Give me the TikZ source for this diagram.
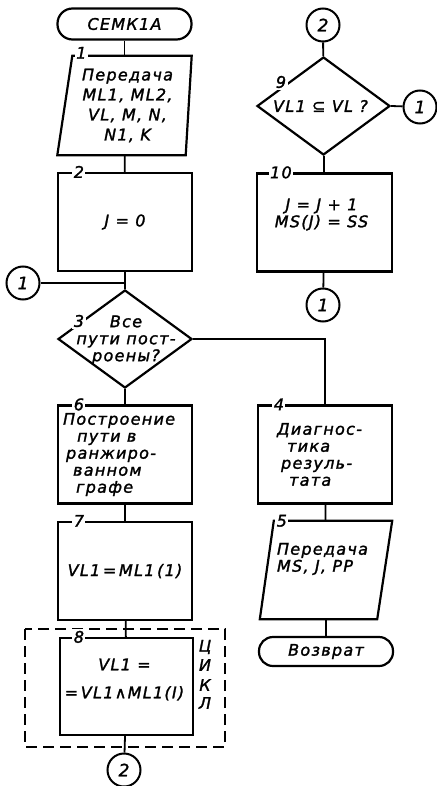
\documentclass[tikz,border=0pt]{standalone}
\usepackage{fontspec}
\setmainfont{DejaVu Sans}[LetterSpace=8,FakeBold=1.6]
\usetikzlibrary{shapes.geometric,calc}
\begin{document}
\begin{tikzpicture}[x=1pt,y=-1pt,
  every node/.style={font=\itshape\fontsize{16}{17}\selectfont},
  blk/.style={draw, line width=2.2pt, minimum width=134pt, minimum height=98pt, inner sep=0pt, align=center},
  shp/.style={draw, line width=2.2pt, line join=miter},
  txt/.style={align=center, inner sep=0pt},
  num/.style={fill=white, inner sep=1.5pt, font=\itshape\fontsize{16}{16}\selectfont},
  conn/.style={line width=1.8pt},
  con/.style={circle, draw, line width=2pt, minimum size=33pt, inner sep=0pt, font=\itshape\fontsize{17}{17}\selectfont},
  term/.style={draw, line width=2.2pt, rounded corners=15pt, minimum width=134pt, minimum height=31pt, inner sep=0pt},
  loopbox/.style={draw, line width=1.7pt, dash pattern=on 11pt off 6pt}]
\useasboundingbox (0,0) rectangle (436,786);

% ---- left column ----
\node[term] (start) at (124.5,24) {СЕМК1А};

\node[minimum width=134pt, minimum height=99pt, inner sep=0pt] (b1) at (124.5,105.5) {};
\draw[shp] ($(b1.north west)+(15,0)$) -- (b1.north east) -- ($(b1.south east)+(-6,0)$) -- (b1.south west) -- cycle;
\node[txt, font=\itshape\fontsize{16}{20}\selectfont] at ($(b1.center)+(3,0)$) {Передача\\ML1, ML2,\\VL, M, N,\\N1, K};
\node[num] at ($(b1.north west)+(24,-3)$) {1};

\node[blk] (b2) at (125,222) {J = 0};
\node[num] at ($(b2.north west)+(22,0)$) {2};

\node[con] (c1a) at (23,283) {1};

\node[diamond, shp, minimum width=134pt, minimum height=98pt, inner sep=0pt] (d3) at (125,339) {};
\node[txt] at ($(d3.center)+(1,1)$) {Все\\пути пост-\\роены?};
\node[num] at (79,321) {3};

\node[blk] (b6) at (125,454.5) {};
\node[txt, align=left, anchor=west] at ($(b6.west)+(6,0)$) {Построение\\\hspace{14pt}пути в\\\hspace{3pt}ранжиро-\\\hspace{10pt}ванном\\\hspace{13pt}графе};
\node[num] at ($(b6.north west)+(22,0)$) {6};

\node[blk] (b7) at (125,571) {VL1\,=\,ML1\,(1)};
\node[num] at ($(b7.north west)+(22,0)$) {7};

\draw[loopbox] (25,629) rectangle (225,747);
\node[blk, minimum width=133pt, minimum height=97pt] (b8) at (126.5,686.5) {};
\node[txt, font=\itshape\fontsize{16}{28}\selectfont] at ($(b8.center)+(-2,-7)$) {VL1 =\hspace{10pt}\\=\,VL1∧ML1(I)};
\node[num] at ($(b8.north west)+(20,0)$) {8};
\node[txt] at (205,647) {Ц};
\node[txt] at (205,665) {И};
\node[txt] at (205,685) {К};
\node[txt] at (205,703) {Л};

\node[con] (c2a) at (124,770) {2};

% ---- right column ----
\node[con] (c2b) at (323,25) {2};
\node[diamond, shp, minimum width=133pt, minimum height=98pt, inner sep=0pt] (d9) at (323.5,106) {};
\node[txt] at ($(d9.center)+(-3,0)$) {VL1 ⊆ VL ?};
\node[num] at (281,82) {9};
\node[con] (c1b) at (420,107) {1};

\node[blk, minimum width=135pt] (b10) at (324.5,222.5) {};
\node[txt] at ($(b10.center)+(-3,-8)$) {J = J + 1\\MS(J) = SS};
\node[num] at ($(b10.north west)+(25,0)$) {10};
\node[con] (c1c) at (323,305) {1};

\node[blk] (b4) at (325,454.5) {};
\node[txt, align=left, anchor=west] at ($(b4.west)+(20,0)$) {Диагнос-\\\hspace{10pt}тика\\\hspace{4pt}резуль-\\\hspace{12pt}тата};
\node[num] at ($(b4.north west)+(22,0)$) {4};

\node[minimum width=132pt, minimum height=98pt, inner sep=0pt] (b5) at (326,570) {};
\draw[shp] ($(b5.north west)+(14,0)$) -- (b5.north east) -- ($(b5.south east)+(-15,0)$) -- (b5.south west) -- cycle;
\node[txt, align=left, anchor=north west] at ($(b5.north west)+(17,22)$) {Передача\\MS, J, PP};
\node[num] at ($(b5.north west)+(22,0)$) {5};

\node[term, minimum height=29pt, rounded corners=14pt] (end) at (326,651.5) {Возврат};

% ---- connectors ----
\draw[conn] (start) -- (b1);
\draw[conn] (b1) -- (b2);
\draw[conn] (b2) -- (d3);
\draw[conn] (c1a) -- (c1a -| d3.north);
\draw[conn] (d3) -- (b6);
\draw[conn] (b6) -- (b7);
\draw[conn] (b7) -- (b8);
\draw[conn] (b8) -- (c2a);
\draw[conn] (d3.east) -| (b4.north);
\draw[conn] (b4) -- (b5);
\draw[conn] (b5) -- (end);
\draw[conn] (c2b) -- (d9);
\draw[conn] (d9.east) -- (c1b);
\draw[conn] (d9) -- (b10);
\draw[conn] (b10) -- (c1c);
\end{tikzpicture}
\end{document}
